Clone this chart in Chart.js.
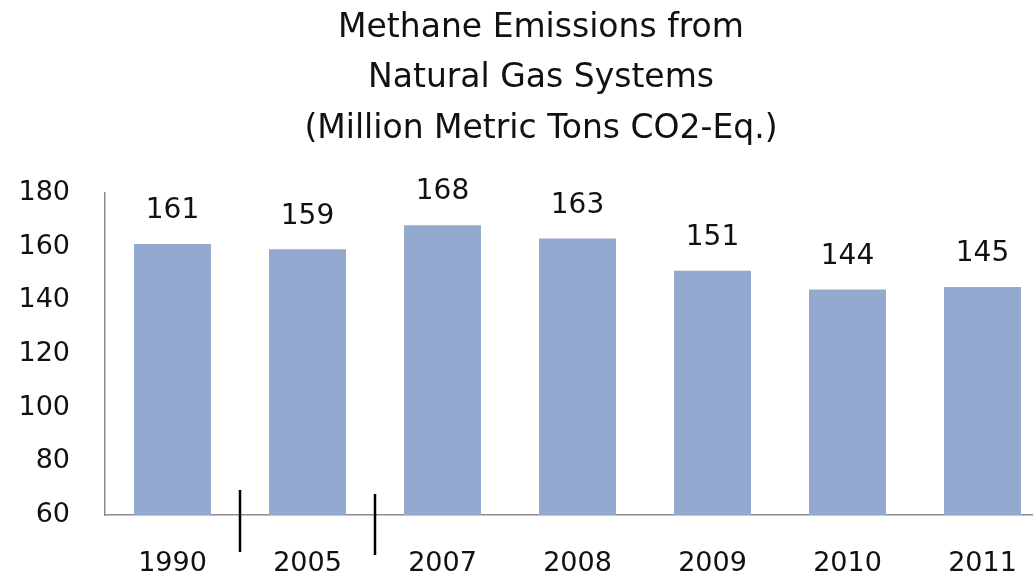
<!DOCTYPE html>
<html><head><meta charset="utf-8">
<script src="https://cdn.jsdelivr.net/npm/chart.js@4.4.1/dist/chart.umd.min.js"></script>
<style>
html,body{margin:0;padding:0;background:#fff;overflow:hidden;}
#wrap{width:1082px;height:578px;position:relative;}
</style></head><body>
<div id="wrap"><canvas id="c" width="1082" height="578"></canvas></div>
<script>
const categories = ['1990','2005','2007','2008','2009','2010','2011'];
const emissions = [161, 159, 168, 163, 151, 144, 145];
const yTicks = [60, 80, 100, 120, 140, 160, 180];
const titleLines = ['Methane Emissions from','Natural Gas Systems','(Million Metric Tons CO2-Eq.)'];
const breakAfter = [0, 1]; // separators after these category indices

const FONT = 'DejaVu Sans';

const titleBlock = {
  id: 'titleBlock',
  afterDraw(chart) {
    const ctx = chart.ctx;
    ctx.save();
    ctx.font = '33px "' + FONT + '"';
    ctx.fillStyle = '#111';
    ctx.textAlign = 'center';
    ctx.textBaseline = 'middle';
    titleLines.forEach((t, i) => ctx.fillText(t, 541, 28 + i * 50.5));
    ctx.restore();
  }
};

const valueLabels = {
  id: 'valueLabels',
  afterDatasetsDraw(chart) {
    const ctx = chart.ctx;
    const meta = chart.getDatasetMeta(0);
    ctx.save();
    ctx.font = '28px "' + FONT + '"';
    ctx.fillStyle = '#111';
    ctx.textAlign = 'center';
    ctx.textBaseline = 'middle';
    meta.data.forEach((bar, i) => {
      ctx.fillText(String(emissions[i]), bar.x, bar.y - 33);
    });
    ctx.restore();
  }
};

const separators = {
  id: 'separators',
  afterDraw(chart) {
    const ctx = chart.ctx;
    const xs = chart.scales.x;
    const ys = chart.scales.y;
    const base = ys.getPixelForValue(60);
    ctx.save();
    ctx.strokeStyle = '#000';
    ctx.lineWidth = 2.5;
    breakAfter.forEach((i, k) => {
      const x = (xs.getPixelForValue(i) + xs.getPixelForValue(i + 1)) / 2;
      ctx.beginPath();
      ctx.moveTo(x, base - 25 + k * 4);
      ctx.lineTo(x, base + 37 + k * 3);
      ctx.stroke();
    });
    ctx.restore();
  }
};

new Chart(document.getElementById('c'), {
  type: 'bar',
  data: {
    labels: categories,
    datasets: [{
      data: emissions,
      backgroundColor: '#94a9d0',
      borderWidth: 0,
      barPercentage: 0.57,
      categoryPercentage: 1.0,
      base: 60
    }]
  },
  options: {
    responsive: false,
    animation: false,
    layout: { padding: { left: 0, right: 32, top: 193, bottom: 0 } },
    plugins: {
      legend: { display: false },
      tooltip: { enabled: false },
      title: { display: false }
    },
    scales: {
      x: {
        grid: { display: false, drawTicks: false },
        border: { display: true, color: '#8c8c8c', width: 1.5 },
        ticks: { color: '#111', font: { family: FONT, size: 27 }, padding: 33 },
        afterFit(scale) { scale.height = 63; }
      },
      y: {
        min: 60, max: 180,
        afterBuildTicks(scale) { scale.ticks = yTicks.map(v => ({ value: v })); },
        grid: { display: false, drawTicks: false },
        border: { display: true, color: '#8c8c8c', width: 1.5 },
        ticks: { color: '#111', font: { family: FONT, size: 27 }, padding: 35 },
        afterFit(scale) { scale.width = 105; }
      }
    }
  },
  plugins: [titleBlock, valueLabels, separators]
});
</script>
</body></html>
